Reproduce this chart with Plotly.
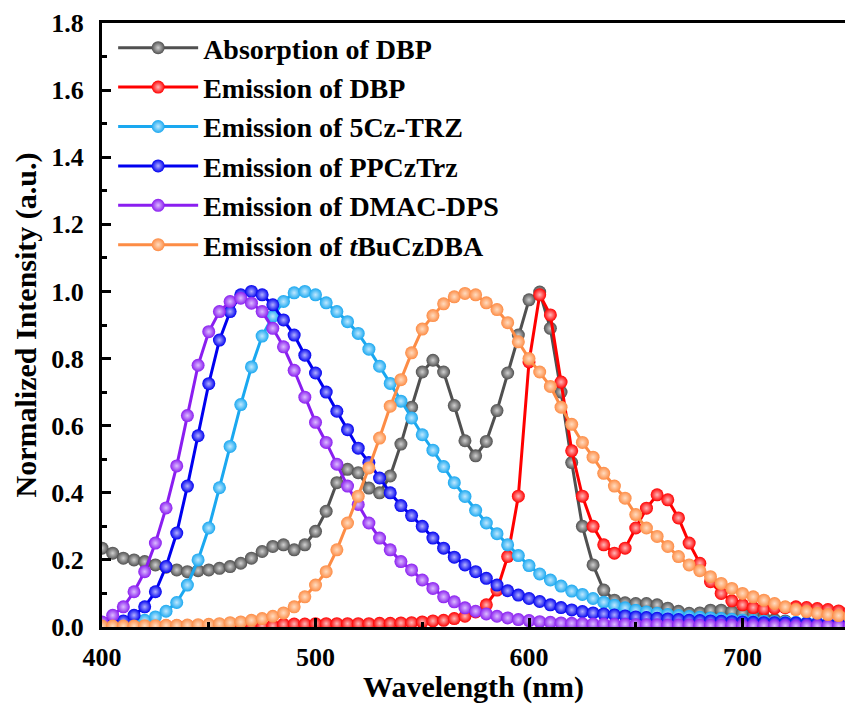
import plotly.graph_objects as go

wl = list(range(400, 755, 5))          # 400..750 nm, 71 points
wl_abs = list(range(400, 725, 5))      # 400..720 nm, 65 points

absorption_dbp = [0.235, 0.22, 0.205, 0.2, 0.195, 0.185, 0.178, 0.17, 0.165, 0.168,
                  0.17, 0.175, 0.18, 0.19, 0.205, 0.225, 0.24, 0.245, 0.23, 0.245,
                  0.285, 0.345, 0.43, 0.47, 0.46, 0.414, 0.40, 0.45, 0.545, 0.655,
                  0.76, 0.795, 0.76, 0.66, 0.555, 0.51, 0.553, 0.645, 0.757, 0.87,
                  0.975, 0.998, 0.89, 0.70, 0.49, 0.30, 0.185, 0.11, 0.08, 0.072,
                  0.07, 0.07, 0.066, 0.056, 0.047, 0.041, 0.042, 0.05, 0.05, 0.046,
                  0.041, 0.034, 0.028, 0.022, 0.018]

emission_dbp = [0.004] * 17 + [
    0.008, 0.009, 0.009, 0.01, 0.01, 0.01, 0.01, 0.01, 0.01, 0.011,
    0.011, 0.012, 0.013, 0.015, 0.018, 0.02, 0.025, 0.032, 0.045, 0.066,
    0.11, 0.21, 0.39, 0.79, 0.99, 0.93, 0.73, 0.525, 0.39, 0.30,
    0.245, 0.22, 0.235, 0.295, 0.354, 0.394, 0.379, 0.325, 0.25, 0.19,
    0.135, 0.10, 0.078, 0.066, 0.058, 0.054, 0.056, 0.058, 0.06, 0.058,
    0.055, 0.052, 0.048, 0.045]

emission_5cztrz = [0.004, 0.006, 0.009, 0.014, 0.02, 0.03, 0.047, 0.073, 0.125, 0.2,
                   0.295, 0.415, 0.538, 0.663, 0.775, 0.867, 0.926, 0.97, 0.996, 1.0,
                   0.99, 0.966, 0.94, 0.91, 0.875, 0.828, 0.777, 0.726, 0.673, 0.623,
                   0.573, 0.527, 0.478, 0.43, 0.389, 0.348, 0.31, 0.278, 0.245, 0.213,
                   0.183, 0.158, 0.14, 0.122, 0.107, 0.097, 0.085, 0.074, 0.065, 0.057,
                   0.05, 0.045, 0.041, 0.037, 0.034, 0.031, 0.029, 0.027, 0.025, 0.023,
                   0.021, 0.019, 0.017, 0.016, 0.015, 0.014, 0.013, 0.012, 0.011, 0.01,
                   0.01]

emission_ppcztrz = [0.003, 0.008, 0.018, 0.035, 0.06, 0.105, 0.18, 0.28, 0.42, 0.57,
                    0.725, 0.855, 0.94, 0.99, 1.0, 0.99, 0.96, 0.915, 0.87, 0.81,
                    0.757, 0.70, 0.643, 0.588, 0.533, 0.49, 0.444, 0.40, 0.362, 0.332,
                    0.30, 0.265, 0.235, 0.208, 0.185, 0.165, 0.145, 0.125, 0.108, 0.095,
                    0.085, 0.076, 0.066, 0.058, 0.051, 0.046, 0.042, 0.039, 0.036, 0.033,
                    0.03, 0.028, 0.026, 0.024, 0.022, 0.02, 0.019, 0.018, 0.017, 0.016,
                    0.015, 0.014, 0.013, 0.013, 0.012, 0.012, 0.011, 0.011, 0.01, 0.01,
                    0.009]

emission_dmacdps = [0.015, 0.035, 0.06, 0.105, 0.165, 0.25, 0.355, 0.48, 0.63, 0.78,
                    0.88, 0.94, 0.97, 0.98, 0.965, 0.94, 0.89, 0.835, 0.765, 0.685,
                    0.61, 0.55, 0.485, 0.42, 0.365, 0.31, 0.265, 0.23, 0.195, 0.17,
                    0.14, 0.115, 0.09, 0.075, 0.057, 0.047, 0.039, 0.032, 0.027, 0.022,
                    0.019, 0.016, 0.014, 0.012, 0.011, 0.01, 0.009, 0.009, 0.008, 0.008,
                    0.007, 0.007, 0.007, 0.006, 0.006, 0.006, 0.005, 0.005, 0.005, 0.005,
                    0.004, 0.004, 0.004, 0.004, 0.004, 0.003, 0.003, 0.003, 0.003, 0.003,
                    0.003]

emission_tbuczdba = [0.003, 0.003, 0.003, 0.003, 0.004, 0.004, 0.005, 0.005, 0.006, 0.007,
                     0.008, 0.01, 0.013, 0.015, 0.02, 0.025, 0.032, 0.042, 0.06, 0.09,
                     0.125, 0.165, 0.23, 0.31, 0.39, 0.474, 0.563, 0.658, 0.737, 0.817,
                     0.888, 0.928, 0.963, 0.984, 0.994, 0.99, 0.966, 0.946, 0.907, 0.85,
                     0.80, 0.76, 0.717, 0.655, 0.604, 0.55, 0.506, 0.458, 0.42, 0.384,
                     0.335, 0.295, 0.27, 0.24, 0.21, 0.185, 0.168, 0.15, 0.13, 0.115,
                     0.10, 0.09, 0.08, 0.07, 0.06, 0.052, 0.046, 0.041, 0.037, 0.034,
                     0.031]

series = [
    ("Absorption of DBP", wl_abs, absorption_dbp, "#505050", "#d0d0d0"),
    ("Emission of DBP", wl, emission_dbp, "#ff0000", "#ffb8b8"),
    ("Emission of 5Cz-TRZ", wl, emission_5cztrz, "#1aa8f0", "#c0e8ff"),
    ("Emission of PPCzTrz", wl, emission_ppcztrz, "#0000f0", "#b0b0ff"),
    ("Emission of DMAC-DPS", wl, emission_dmacdps, "#8a1ef0", "#dcbcff"),
    ("Emission of <i>t</i>BuCzDBA", wl, emission_tbuczdba, "#fd8c45", "#ffdcc0"),
]

FONT = "Liberation Serif, Times New Roman, serif"

fig = go.Figure()
for name, x, y, col, hi in series:
    fig.add_trace(go.Scatter(
        x=x, y=y, name=name, mode="lines+markers",
        line=dict(color=col, width=3),
        marker=dict(size=13, color=col, line=dict(width=0),
                    gradient=dict(type="radial", color=hi)),
    ))

fig.update_layout(
    width=845, height=704,
    margin=dict(l=102, r=0, t=23, b=77),
    paper_bgcolor="white", plot_bgcolor="white",
    font=dict(family=FONT, color="black", weight="bold"),
    showlegend=True,
    legend=dict(x=0.015, y=1.0, xanchor="left", yanchor="top",
                bgcolor="rgba(0,0,0,0)", borderwidth=0,
                font=dict(family=FONT, size=28, color="black", weight="bold"),
                itemwidth=80, tracegroupgap=0),
    xaxis=dict(
        range=[400, 748], tickvals=[400, 500, 600, 700],
        showgrid=False, zeroline=False,
        showline=True, linecolor="black", linewidth=3, mirror=True,
        ticks="inside", ticklen=9, tickwidth=3, tickcolor="black",
        minor=dict(tickvals=[450, 550, 650], ticks="inside", ticklen=5,
                   tickwidth=3, tickcolor="black"),
        tickfont=dict(family=FONT, size=26, color="black", weight="bold"),
        ticklabelstandoff=5,
        title=dict(text="Wavelength (nm)", standoff=3,
                   font=dict(family=FONT, size=30, color="black", weight="bold")),
    ),
    yaxis=dict(
        range=[0, 1.8], dtick=0.2, tick0=0, tickformat=".1f",
        showgrid=False, zeroline=False,
        showline=True, linecolor="black", linewidth=3, mirror=False,
        ticks="inside", ticklen=9, tickwidth=3, tickcolor="black",
        minor=dict(dtick=0.1, ticks="inside", ticklen=5, tickwidth=3,
                   tickcolor="black"),
        tickfont=dict(family=FONT, size=26, color="black", weight="bold"),
        ticklabelstandoff=10,
        title=dict(text="Normalized Intensity (a.u.)", standoff=6,
                   font=dict(family=FONT, size=30, color="black", weight="bold")),
    ),
)

fig.write_html("out.html")
